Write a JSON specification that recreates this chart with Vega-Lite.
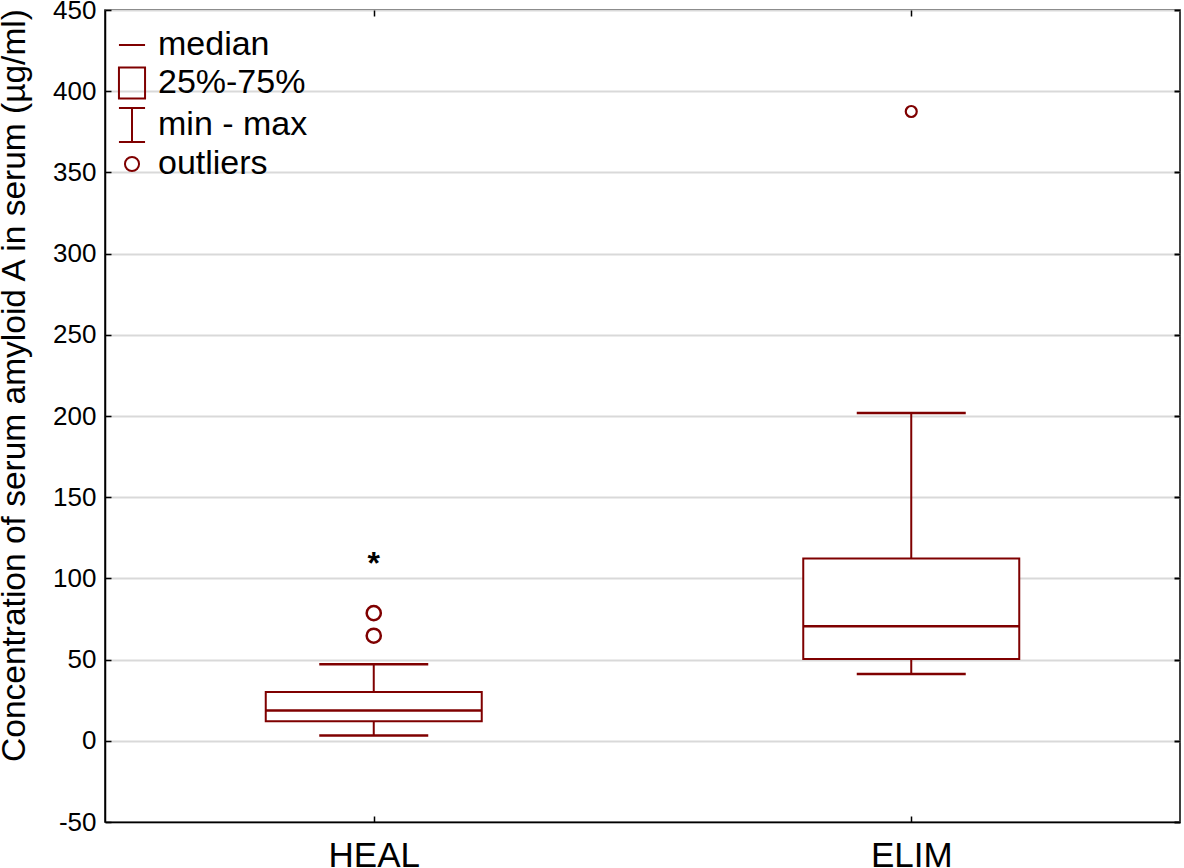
{
  "$schema": "https://vega.github.io/schema/vega-lite/v6.json",
  "autosize": "none",
  "padding": {"left": 105, "top": 10, "right": 4, "bottom": 46},
  "width": 1075,
  "height": 812,
  "background": "white",
  "config": {
    "view": {"stroke": "black", "strokeWidth": 1.5},
    "font": "Liberation Sans",
    "axis": {"labelColor": "black", "titleColor": "black", "domainColor": "black", "tickColor": "black", "labelFont": "Liberation Sans", "titleFont": "Liberation Sans", "titleFontWeight": "normal"}
  },
  "datasets": {
    "boxes": [
      {"group": "HEAL", "min": 3.3, "q1": 12.1, "median": 18.7, "q3": 30.0, "max": 47.2},
      {"group": "ELIM", "min": 41.1, "q1": 50.3, "median": 70.6, "q3": 112.3, "max": 201.8}
    ],
    "outliers": [
      {"group": "HEAL", "value": 78.6},
      {"group": "HEAL", "value": 64.7},
      {"group": "ELIM", "value": 387.5}
    ],
    "extremes": [{"group": "HEAL", "value": 112.7}],
    "legend": [{"item": "median"}, {"item": "25%-75%"}, {"item": "min - max"}, {"item": "outliers"}]
  },
  "resolve": {"axis": {"x": "independent", "y": "independent"}},
  "layer": [
    {
      "data": {"name": "boxes"},
      "mark": {"type": "rule", "color": "#7f0000", "strokeWidth": 2},
      "encoding": {
        "x": {"field": "group", "type": "nominal", "sort": ["HEAL", "ELIM"],
          "scale": {"type": "point", "padding": 0.5, "domain": ["HEAL", "ELIM"]},
          "axis": {"orient": "bottom", "title": null, "labelFontSize": 35, "labelAngle": 0, "labelPadding": 22, "tickSize": -6, "tickWidth": 1.5, "domainWidth": 1.5, "labelBaseline": "top"}},
        "y": {"field": "min", "type": "quantitative",
          "scale": {"domain": [-50, 450], "nice": false, "zero": false},
          "axis": {"orient": "left", "values": [-50, 0, 50, 100, 150, 200, 250, 300, 350, 400, 450],
            "labelExpr": "replace(datum.label, '−', '-')",
            "grid": true, "gridColor": "#d9d9d9", "gridWidth": 2, "labelFontSize": 26, "labelPadding": 15,
            "tickSize": -6, "tickWidth": 1.5, "domainWidth": 1.5,
            "title": "Concentration of serum amyloid A in serum (µg/ml)", "titleFontSize": 33.5,
            "titleAngle": -90, "titleX": -81, "titleY": 375, "titleBaseline": "alphabetic", "titleAlign": "center"}},
        "y2": {"field": "max"}
      }
    },
    {
      "data": {"name": "boxes"},
      "mark": {"type": "bar", "fill": "white", "stroke": "#7f0000", "strokeWidth": 2, "width": 216},
      "encoding": {
        "x": {"field": "group", "type": "nominal", "sort": ["HEAL", "ELIM"], "axis": null},
        "y": {"field": "q1", "type": "quantitative", "axis": null},
        "y2": {"field": "q3"}
      }
    },
    {
      "data": {"name": "boxes"},
      "mark": {"type": "tick", "color": "#7f0000", "size": 216, "thickness": 2.5, "opacity": 1},
      "encoding": {
        "x": {"field": "group", "type": "nominal", "sort": ["HEAL", "ELIM"], "axis": null},
        "y": {"field": "median", "type": "quantitative", "axis": null}
      }
    },
    {
      "data": {"name": "boxes"},
      "mark": {"type": "tick", "color": "#7f0000", "size": 109, "thickness": 2.5, "opacity": 1},
      "encoding": {
        "x": {"field": "group", "type": "nominal", "sort": ["HEAL", "ELIM"], "axis": null},
        "y": {"field": "min", "type": "quantitative", "axis": null}
      }
    },
    {
      "data": {"name": "boxes"},
      "mark": {"type": "tick", "color": "#7f0000", "size": 109, "thickness": 2.5, "opacity": 1},
      "encoding": {
        "x": {"field": "group", "type": "nominal", "sort": ["HEAL", "ELIM"], "axis": null},
        "y": {"field": "max", "type": "quantitative", "axis": null}
      }
    },
    {
      "data": {"name": "outliers"},
      "transform": [{"filter": "datum.group === 'HEAL'"}],
      "mark": {"type": "point", "shape": "circle", "filled": false, "color": "#7f0000", "strokeWidth": 2.5, "size": 200, "opacity": 1},
      "encoding": {
        "x": {"field": "group", "type": "nominal", "sort": ["HEAL", "ELIM"],
          "axis": {"orient": "top", "labels": false, "title": null, "domain": false, "tickSize": -6, "tickWidth": 1.5}},
        "y": {"field": "value", "type": "quantitative",
          "axis": {"orient": "right", "labels": false, "title": null, "domain": false, "grid": false, "tickSize": -6, "tickWidth": 2, "values": [-50, 0, 50, 100, 150, 200, 250, 300, 350, 400, 450]}}
      }
    },
    {
      "data": {"name": "outliers"},
      "transform": [{"filter": "datum.group === 'ELIM'"}],
      "mark": {"type": "point", "shape": "circle", "filled": false, "color": "#7f0000", "strokeWidth": 2.2, "size": 120, "opacity": 1},
      "encoding": {
        "x": {"field": "group", "type": "nominal", "sort": ["HEAL", "ELIM"], "axis": null},
        "y": {"field": "value", "type": "quantitative", "axis": null}
      }
    },
    {
      "data": {"name": "extremes"},
      "mark": {"type": "text", "text": "*", "fontSize": 32, "fontWeight": "bold", "color": "black", "baseline": "middle", "dy": 6},
      "encoding": {
        "x": {"field": "group", "type": "nominal", "sort": ["HEAL", "ELIM"], "axis": null},
        "y": {"field": "value", "type": "quantitative", "axis": null}
      }
    },
    {
      "data": {"name": "legend"},
      "mark": {"type": "point", "opacity": 0, "filled": false},
      "encoding": {
        "shape": {"field": "item", "type": "nominal",
          "scale": {"domain": ["median", "25%-75%", "min - max", "outliers"],
            "range": ["M-0.87,0H0.87", "M-0.87,-1.03H0.87V1.03H-0.87Z", "M-0.87,-1.13H0.87M0,-1.13V1.13M-0.87,1.13H0.87", "M-0.47,0A0.47,0.47 0 1,0 0.47,0A0.47,0.47 0 1,0 -0.47,0"]},
          "legend": {"orient": "none", "legendX": 10, "legendY": 18, "title": null, "padding": 0,
            "symbolSize": 900, "symbolStrokeColor": "#7f0000", "symbolStrokeWidth": 2, "symbolFillColor": "transparent", "symbolOpacity": 1,
            "labelFontSize": 34, "labelColor": "black", "labelFont": "Liberation Sans", "labelOffset": 9, "rowPadding": 1, "labelLimit": 400}}
      }
    }
  ]
}
